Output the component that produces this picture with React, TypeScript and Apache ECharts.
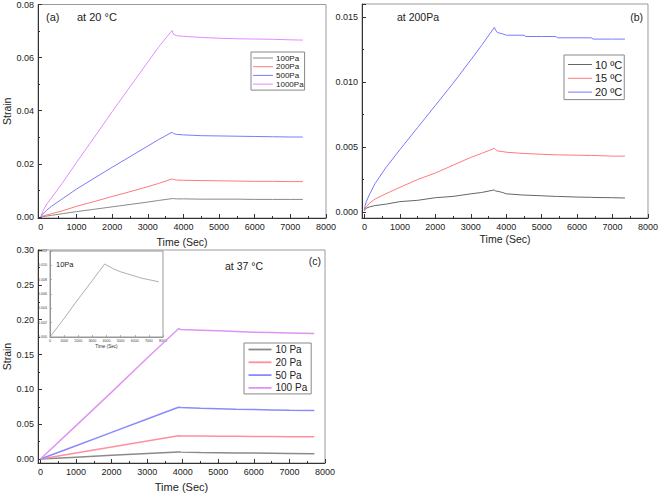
import React, { useEffect, useRef } from 'react';
import * as echarts from 'echarts';

// ---- Panel (a): at 20 °C, different stresses ----
const timeA = [0, 50, 150, 300, 600, 1000, 1500, 2000, 2500, 3000, 3300, 3680, 3720, 3800, 4000, 4500, 5000, 5500, 6000, 6500, 7000, 7350];
const strainA100 = [0, 0.0001, 0.0003, 0.0006, 0.0012, 0.0020, 0.0029, 0.0038, 0.0047, 0.0056, 0.0062, 0.0069, 0.0069, 0.0068, 0.0068, 0.0067, 0.0067, 0.0067, 0.0066, 0.0066, 0.0066, 0.0066];
const strainA200 = [0, 0.0003, 0.0007, 0.0012, 0.0023, 0.0040, 0.0058, 0.0077, 0.0095, 0.0114, 0.0126, 0.0143, 0.0141, 0.0139, 0.0138, 0.0137, 0.0136, 0.0135, 0.0134, 0.0134, 0.0133, 0.0133];
const strainA500 = [0, 0.0010, 0.0024, 0.0040, 0.0068, 0.0105, 0.0146, 0.0187, 0.0227, 0.0267, 0.0291, 0.0319, 0.0314, 0.0311, 0.0309, 0.0306, 0.0305, 0.0304, 0.0303, 0.0302, 0.0301, 0.0301];
const strainA1000 = [0, 0.0020, 0.0045, 0.0072, 0.0127, 0.0205, 0.0300, 0.0396, 0.0490, 0.0583, 0.0639, 0.0702, 0.0688, 0.0683, 0.0680, 0.0676, 0.0673, 0.0671, 0.0670, 0.0669, 0.0667, 0.0666];
const namesA = ['100Pa', '200Pa', '500Pa', '1000Pa'];

// ---- Panel (b): at 200Pa, different temperatures ----
const timeB = [0, 20, 50, 150, 300, 600, 1000, 1500, 2000, 2500, 3000, 3300, 3665, 3700, 3750, 3900, 4000, 4500, 4550, 5000, 5400, 5450, 6000, 6400, 6450, 7000, 7350];
const strainB10 = [0.0001, 0.0002, 0.0003, 0.0004, 0.0005, 0.0006, 0.0008, 0.0009, 0.0011, 0.0012, 0.0014, 0.0015, 0.0017, 0.0016, 0.0016, 0.0015, 0.0014, 0.0013, 0.0013, 0.00125, 0.0012, 0.0012, 0.00115, 0.00113, 0.00112, 0.0011, 0.00108];
const strainB15 = [0.0001, 0.0003, 0.0004, 0.0007, 0.0010, 0.0014, 0.0019, 0.0025, 0.0030, 0.0036, 0.0042, 0.0045, 0.0049, 0.0048, 0.0047, 0.00465, 0.0046, 0.0045, 0.0045, 0.00444, 0.0044, 0.0044, 0.00437, 0.00435, 0.00435, 0.0043, 0.0043];
const strainB20 = [0.0002, 0.0005, 0.0008, 0.0014, 0.0022, 0.0034, 0.0048, 0.0065, 0.0082, 0.0099, 0.0117, 0.0128, 0.0142, 0.0140, 0.0138, 0.0137, 0.0136, 0.0136, 0.0135, 0.0135, 0.0135, 0.0134, 0.0134, 0.0134, 0.0133, 0.0133, 0.0133];
const namesB = ['10 ºC', '15 ºC', '20 ºC'];

// ---- Panel (c): at 37 °C, different stresses ----
const timeC = [0, 1000, 2000, 3000, 3880, 3950, 4500, 5000, 5500, 6000, 6500, 7000, 7700];
const strainC10 = [0, 0.0026, 0.0053, 0.0079, 0.0102, 0.0101, 0.0095, 0.0091, 0.0088, 0.0085, 0.0082, 0.0080, 0.0077];
const strainC20 = [0, 0.0086, 0.0172, 0.0258, 0.0333, 0.0332, 0.0330, 0.0328, 0.0326, 0.0324, 0.0322, 0.0320, 0.0318];
const strainC50 = [0, 0.0191, 0.0383, 0.0574, 0.0743, 0.0740, 0.0730, 0.0722, 0.0715, 0.0710, 0.0705, 0.0700, 0.0695];
const strainC100 = [0, 0.048, 0.096, 0.145, 0.187, 0.186, 0.185, 0.184, 0.183, 0.182, 0.1815, 0.181, 0.180];
const namesC = ['10 Pa', '20 Pa', '50 Pa', '100 Pa'];
const insetName = '10Pa';

const GRAY = '#8a8a8a';
const RED = '#ff7a7a';
const BLUE = '#7a7aff';
const VIOLET = '#e38cff';
const FONT = 'Liberation Sans, Arial, sans-serif';
const AXIS = '#333';
const FRAME = '#9a9a9a';

const pairs = (t: number[], v: number[]) => t.map((x, i) => [x, v[i]]);

function xAxisCfg(grid: number, min: number, name: string, gap: number, nameSize: number) {
  return {
    type: 'value', gridIndex: grid, min, max: 8000, splitNumber: 8,
    axisLine: { show: true, onZero: false, lineStyle: { color: AXIS, width: 1 } },
    axisTick: { show: true, inside: true, length: 4, lineStyle: { color: AXIS } },
    minorTick: { show: true, splitNumber: 2, length: 2, lineStyle: { color: AXIS } },
    splitLine: { show: false },
    axisLabel: { fontSize: 9, color: '#222', margin: 4, showMinLabel: false, fontFamily: FONT, formatter: (v: number) => String(v) },
    name, nameLocation: 'middle', nameGap: gap,
    nameTextStyle: { fontSize: nameSize, color: '#222', fontFamily: FONT },
  };
}

function yAxisCfg(grid: number, min: number, max: number, split: number, digits: number, name: string, showMax: boolean) {
  return {
    type: 'value', gridIndex: grid, min, max, splitNumber: split,
    axisLine: { show: true, onZero: false, lineStyle: { color: AXIS, width: 1 } },
    axisTick: { show: true, inside: true, length: 4, lineStyle: { color: AXIS } },
    minorTick: { show: true, splitNumber: 2, length: 2, lineStyle: { color: AXIS } },
    splitLine: { show: false },
    axisLabel: {
      fontSize: 9, color: '#222', margin: 4, showMinLabel: false, showMaxLabel: showMax, fontFamily: FONT,
      formatter: (v: number) => v.toFixed(digits),
    },
    name, nameLocation: 'middle', nameGap: 26,
    nameTextStyle: { fontSize: 10.5, color: '#222', fontFamily: FONT },
  };
}

function lineSeries(name: string, t: number[], v: number[], color: string, grid: number, width: number) {
  return {
    type: 'line', name, xAxisIndex: grid, yAxisIndex: grid,
    data: pairs(t, v), symbol: 'none', showSymbol: false, silent: true,
    lineStyle: { color, width }, itemStyle: { color },
    emphasis: { disabled: true },
  };
}

function legendCfg(data: string[], left: number, top: number, padding: number[], fontSize: number, lineHeight: number, itemGap: number, itemWidth: number, iconH: number, textPadLeft: number) {
  return {
    data, orient: 'vertical', left, top, padding, itemGap, itemWidth, itemHeight: iconH, icon: 'rect',
    borderColor: '#888', borderWidth: 1, backgroundColor: '#fff', selectedMode: false,
    textStyle: { fontSize, lineHeight, color: '#222', fontFamily: FONT, padding: [0, 0, 0, textPadLeft] },
  };
}

function txt(text: string, x: number, y: number, size: number, align = 'left') {
  return {
    type: 'text', x, y, silent: true,
    style: { text, fontSize: size, fontFamily: FONT, fill: '#222', align, verticalAlign: 'middle' },
  };
}

export default function App() {
  const ref = useRef<HTMLDivElement>(null);
  useEffect(() => {
    if (!ref.current) return;
    const chart = echarts.init(ref.current, null, { renderer: 'svg' });
    const option = {
      animation: false,
      textStyle: { fontFamily: FONT },
      grid: [
        { left: 37, top: 4, width: 289, height: 214, show: true, borderColor: FRAME, borderWidth: 1, containLabel: false },
        { left: 362, top: 4, width: 288, height: 214, show: true, borderColor: FRAME, borderWidth: 1, containLabel: false },
        { left: 37.5, top: 250, width: 287.5, height: 213, show: true, borderColor: FRAME, borderWidth: 1, containLabel: false },
        { left: 50, top: 251, width: 113, height: 86, show: true, borderColor: FRAME, borderWidth: 1, backgroundColor: '#fff', containLabel: false },
      ],
      xAxis: [
        xAxisCfg(0, -80, 'Time (Sec)', 18, 10.5),
        xAxisCfg(1, -70, 'Time (Sec)', 15, 10.5),
        xAxisCfg(2, -70, 'Time (Sec)', 18, 11),
        {
          type: 'value', gridIndex: 3, min: 0, max: 8000, interval: 1000,
          axisLine: { show: true, onZero: false, lineStyle: { color: '#888', width: 0.8 } },
          axisTick: { show: true, inside: true, length: 2, lineStyle: { color: '#888', width: 0.6 } },
          splitLine: { show: false },
          axisLabel: { fontSize: 3.6, color: '#444', margin: 2, fontFamily: FONT, formatter: (v: number) => String(v) },
          name: 'Time (Sec)', nameLocation: 'middle', nameGap: 7,
          nameTextStyle: { fontSize: 4.6, color: '#333', fontFamily: FONT },
        },
      ],
      yAxis: [
        yAxisCfg(0, -0.0004, 0.08, 4, 2, 'Strain', true),
        yAxisCfg(1, -0.00046, 0.016, 3, 3, '', false),
        yAxisCfg(2, -0.0057, 0.3, 6, 2, 'Strain', true),
        {
          type: 'value', gridIndex: 3, min: 0, max: 0.012, interval: 0.002,
          axisLine: { show: true, onZero: false, lineStyle: { color: '#888', width: 0.8 } },
          axisTick: { show: true, inside: true, length: 2, lineStyle: { color: '#888', width: 0.6 } },
          splitLine: { show: false },
          axisLabel: { fontSize: 3.6, color: '#444', margin: 3, fontFamily: FONT, formatter: (v: number) => v.toFixed(3) },
        },
      ],
      legend: [
        legendCfg(namesA, 251, 52, [2, 1, 2, 2], 8, 8, 0.7, 20, 1, -2),
        legendCfg(namesB, 564, 55, [3, 2, 1, 4], 11, 13, 0.8, 24, 1, -2),
        legendCfg(namesC, 244, 343, [0.5, 4, 0, 4.5], 10, 12, 0.8, 23, 1.8, -1),
      ],
      series: [
        lineSeries(namesA[0], timeA, strainA100, GRAY, 0, 1),
        lineSeries(namesA[1], timeA, strainA200, RED, 0, 1),
        lineSeries(namesA[2], timeA, strainA500, BLUE, 0, 1),
        lineSeries(namesA[3], timeA, strainA1000, VIOLET, 0, 1),
        lineSeries(namesB[0], timeB, strainB10, '#666', 1, 1),
        lineSeries(namesB[1], timeB, strainB15, RED, 1, 1),
        lineSeries(namesB[2], timeB, strainB20, BLUE, 1, 1),
        lineSeries(namesC[0], timeC, strainC10, GRAY, 2, 1.5),
        lineSeries(namesC[1], timeC, strainC20, '#ff8f9f', 2, 1.5),
        lineSeries(namesC[2], timeC, strainC50, '#8a8aff', 2, 1.5),
        lineSeries(namesC[3], timeC, strainC100, '#df95f2', 2, 1.5),
        lineSeries(insetName, timeC, strainC10, '#999', 3, 0.8),
      ],
      graphic: [
        txt('(a)', 46, 17, 11),
        txt('at 20 °C', 77, 17, 11),
        txt('at 200Pa', 397, 17, 10.5),
        txt('(b)', 643, 17, 10.5, 'right'),
        txt('at 37 °C', 225, 266, 10.5),
        txt('(c)', 321, 261, 10.5, 'right'),
        txt('10Pa', 56, 264.5, 7.5),
      ],
    };
    chart.setOption(option as any);
    return () => chart.dispose();
  }, []);
  return <div ref={ref} style={{ position: 'fixed', left: 0, top: 0, width: 661, height: 494, background: '#fff' }} />;
}
